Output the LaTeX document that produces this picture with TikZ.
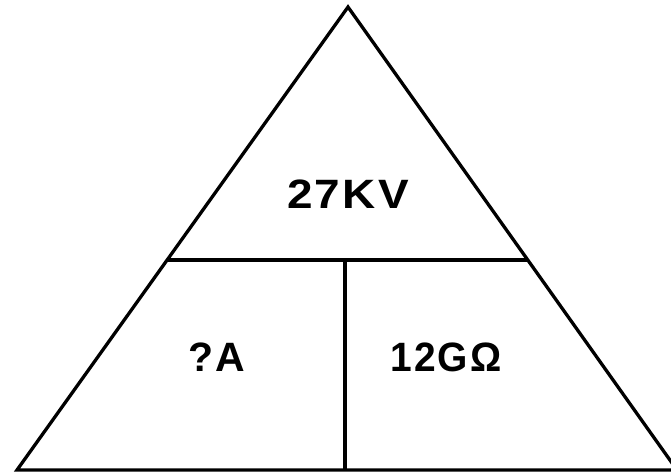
\documentclass[tikz,border=0pt]{standalone}
\usepackage{fontspec}
\newfontfamily\labelfont[LetterSpace=5]{Liberation Sans Bold}
\usetikzlibrary{calc}
\begin{document}
\begin{tikzpicture}[x=1pt,y=-1pt,
  edge/.style={line width=3.3pt,line join=miter},
  qty/.style={font=\labelfont\fontsize{41}{41}\selectfont,inner sep=0pt,anchor=base}]
\useasboundingbox (0,0) rectangle (671,473);
% outer triangle
\coordinate (top) at (348,7);
\coordinate (bl) at (17,470);
\coordinate (br) at (677,470);
\draw[edge] (bl) -- (top) -- (br) -- cycle;
% divider between voltage and the lower cells
\coordinate (ml) at ($(top)!0.5465!(bl)$);
\coordinate (mr) at ($(top)!0.5465!(br)$);
\draw[edge] (ml) -- (mr);
\coordinate (vt) at (345,259);
\coordinate (vb) at (345,470);
\draw[edge] (vt) -- (vb);
% quantities
\node[qty] (volt) at (348,208) {\scalebox{1.12}[1]{27KV}};
\node[qty] (amp) at (217,371) {?A};
\node[qty] (ohm) at (446,371) {\scalebox{0.95}[1]{12GΩ}};
\end{tikzpicture}
\end{document}
